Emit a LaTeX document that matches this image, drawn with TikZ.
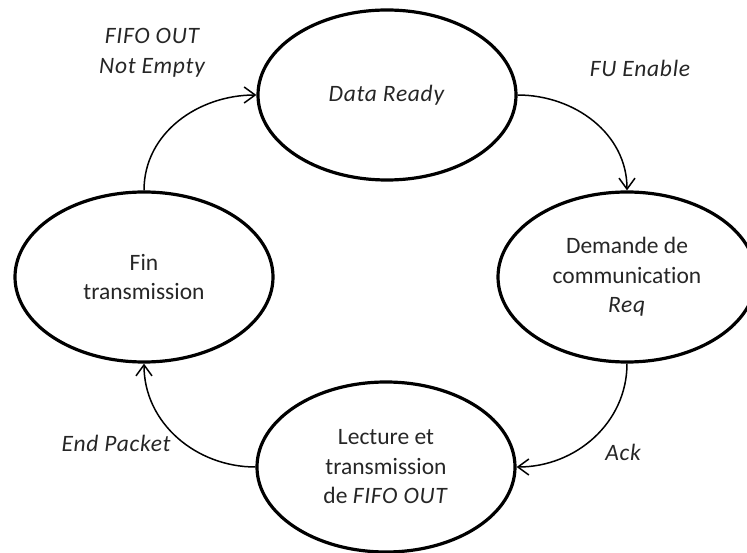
\documentclass[tikz,border=0pt]{standalone}
\usepackage{fontspec}
\setmainfont{Carlito}[Ligatures=CommonOff, ItalicFeatures={LetterSpace=3}]
\usetikzlibrary{shapes.geometric,arrows.meta}

\newcommand{\txtsize}{\fontsize{23.5}{29.5}\selectfont}

\tikzset{
  etat/.style={draw, ellipse, line width=3.2pt, inner sep=0pt,
               minimum width=258pt, minimum height=170pt,
               align=center, text=black!85},
  trans/.style={-{Straight Barb[length=11pt,width=16pt,line width=1.5pt]},
                line width=1.5pt},
  cond/.style={font=\txtsize\itshape, align=center, text=black!85}
}

\begin{document}
\begin{tikzpicture}[x=1pt, y=-1pt, font=\txtsize]
  \useasboundingbox (0,0) rectangle (747,553);

  % etats
  \node[etat] (ready) at (387,95) {\textit{Data Ready}};
  \node[etat] (demande) at (627,277) {Demande de\\communication\\\textit{Req}};
  \node[etat] (lecture) at (386,467) {Lecture et\\transmission\\de \textit{FIFO OUT}};
  \node[etat] (fin) at (144,277) {Fin\\transmission};

  % transitions
  \draw[trans] (ready.east) to[out=0, in=90] (demande.north);
  \draw[trans] (demande.south) to[out=-90, in=0] (lecture.east);
  \draw[trans] (lecture.west) to[out=180, in=-90] (fin.south);
  \draw[trans] (fin.north) to[out=90, in=180] (ready.west);

  % conditions
  \node[cond] (fuen) at (640,68) {FU Enable};
  \node[cond] (ack) at (623,452) {Ack};
  \node[cond] (endp) at (116,443) {End Packet};
  \node[cond] (fifo) at (152,53) {FIFO OUT\\Not Empty};
\end{tikzpicture}
\end{document}
